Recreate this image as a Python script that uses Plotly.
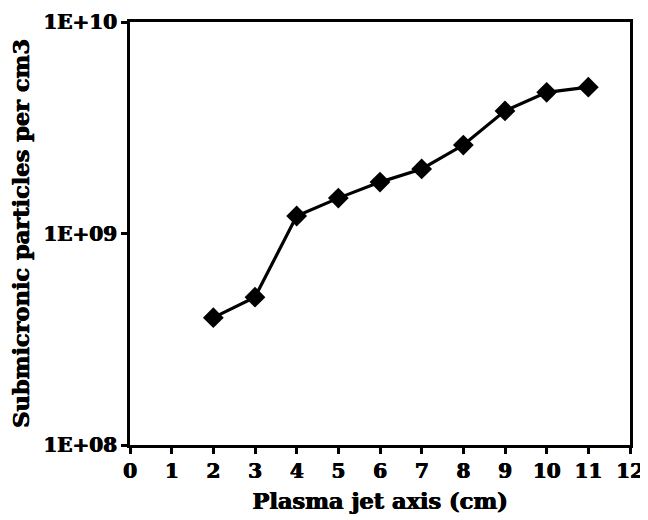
import plotly.graph_objects as go

x_cm = [2, 3, 4, 5, 6, 7, 8, 9, 10, 11]
particles = [4.0e8, 5.0e8, 1.21e9, 1.47e9, 1.75e9, 2.02e9, 2.62e9, 3.8e9, 4.65e9, 4.92e9]
y_tickvals = [1e8, 1e9, 1e10]
y_ticktext = ["1E+08", "1E+09", "1E+10"]
x_tickvals = list(range(0, 13))

font = "DejaVu Serif, Liberation Serif, serif"
heavy = "0.7px 0 0 black, -0.3px 0 0 black"

fig = go.Figure(go.Scatter(
    x=x_cm, y=particles, mode="lines+markers",
    line=dict(color="black", width=3.2),
    marker=dict(symbol="diamond", size=16, color="black"),
))

fig.update_layout(
    width=640, height=512,
    margin=dict(l=122, r=18, t=14, b=75),
    paper_bgcolor="white", plot_bgcolor="white",
    showlegend=False,
    font=dict(family=font, color="black"),
)
fig.update_xaxes(
    range=[0, 12], tickvals=x_tickvals, automargin=False,
    ticks="outside", ticklen=6, tickwidth=2.5, tickcolor="black",
    showline=True, linewidth=3, linecolor="black", mirror=True,
    showgrid=False, zeroline=False,
    tickfont=dict(family=font, size=20, color="black", weight="bold", shadow=heavy),
    title=dict(text="<b>Plasma jet axis (cm)</b>",
               font=dict(family=font, size=22.5, color="black", shadow=heavy), standoff=12),
)
fig.update_yaxes(
    type="log", range=[8, 10], tickvals=y_tickvals, ticktext=y_ticktext, automargin=False,
    ticks="outside", ticklen=6, tickwidth=2.5, tickcolor="black",
    showline=True, linewidth=3, linecolor="black", mirror=True,
    showgrid=False, zeroline=False,
    tickfont=dict(family=font, size=20, color="black", weight="bold", shadow=heavy),
    title=dict(text="<b>Submicronic particles per cm3</b>",
               font=dict(family=font, size=22.5, color="black", shadow=heavy), standoff=12),
)

fig.write_html("out.html")
